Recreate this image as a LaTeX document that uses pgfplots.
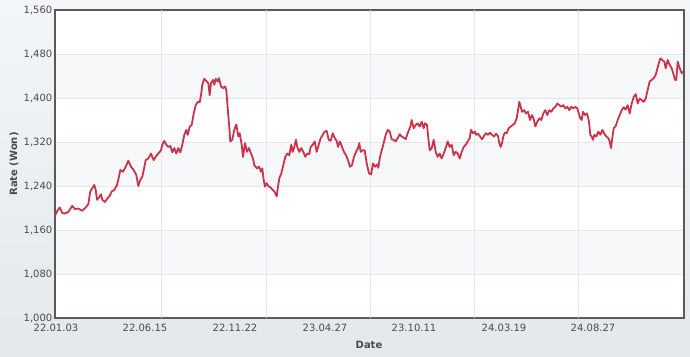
\documentclass[border=0pt]{standalone}
\usepackage{fontspec}
\setmainfont{DejaVu Sans}
\usepackage{pgfplots}
\pgfplotsset{compat=1.18}
\usepackage{pgfplotstable}
\definecolor{linec}{RGB}{202,52,74}
\definecolor{bandc}{HTML}{F6F8FA}
\definecolor{gridc}{HTML}{E4E7EA}
\definecolor{axisc}{HTML}{5A5A5A}
\definecolor{txtc}{HTML}{4A4A4A}
\definecolor{bgtop}{HTML}{F3F6F8}
\definecolor{bgbot}{HTML}{E2E8EC}
\pgfplotstableread{
x y
54.5 1184
57.7 1196
59.7 1201
62.3 1191
65 1190
68.3 1193
72.3 1204
75 1198
78.3 1199
82.3 1195
85.7 1201
88.3 1207
90.3 1230
92.3 1236
94.3 1242
95.7 1233
97 1215
99 1219
101 1225
102.3 1215
105 1211
107.7 1218
109.7 1222
111.7 1230
114.3 1233
117 1242
119 1257
120.3 1269
123 1266
125.7 1275
128.3 1286
131 1275
133.7 1269
136.3 1260
138.3 1240
140.3 1251
142.3 1257
143.7 1269
145.7 1287
148.3 1290
151 1299
153.7 1287
156.3 1295
159.7 1302
161 1305
162.3 1315
164.3 1322
166.3 1315
168.3 1311
170.3 1313
172.3 1301
174.3 1309
176.3 1299
178.3 1309
180.3 1301
182.3 1315
184.3 1333
186.3 1342
187.7 1333
189.7 1348
191.7 1351
193.7 1372
195.7 1387
197.7 1393
199.7 1392
201 1405
202.3 1424
204.3 1435
206.3 1431
208.3 1427
209.7 1405
211 1427
213 1433
214.3 1424
215.7 1435
217.7 1430
219 1436
221 1421
223 1418
225 1421
226.3 1415
227.7 1381
229 1354
230.3 1321
232.3 1324
234.3 1342
236.3 1352
238.3 1330
239.7 1336
241.7 1315
243 1293
245 1318
247 1302
249 1309
251 1299
253 1290
254.3 1278
257 1272
259 1275
261 1266
262.3 1272
263.7 1251
265 1239
266.7 1245
268.7 1239
270.7 1237
272.7 1233
274.7 1229
276.7 1221
278 1239
279.3 1254
281.3 1263
283.3 1278
285.3 1293
287.3 1299
289.3 1296
291.3 1315
292.7 1302
294 1309
296 1324
297.3 1311
299.3 1302
301.3 1309
303.3 1302
305.3 1293
307.3 1299
309.3 1298
310.7 1311
312.7 1315
314.7 1321
316.7 1302
318.7 1315
320.7 1327
322.7 1333
324.7 1339
326.7 1340
328.7 1324
330.7 1322
332.7 1336
334.7 1327
336.7 1322
338 1311
340 1321
342 1311
344 1302
346 1296
348 1287
350 1275
352 1278
354 1293
356 1302
358 1309
359.3 1318
360.7 1302
362.7 1305
364.7 1305
366.7 1281
369 1263
371 1261
373 1281
375 1275
377 1279
378.3 1273
379.7 1290
381.7 1305
383.7 1318
385.7 1333
387.7 1342
389.7 1339
391.7 1325
393.7 1324
395.7 1321
397.7 1327
399.7 1334
401.7 1330
403.7 1328
405.7 1325
407.7 1336
409 1342
410.3 1348
411.7 1360
413.7 1345
415.7 1351
417.7 1354
419.7 1348
421.7 1357
423.7 1345
425 1354
427 1351
428.3 1327
429.7 1305
431.7 1309
433.7 1324
435.7 1302
437.7 1293
439.7 1299
441.7 1290
443.7 1299
445.7 1309
447.7 1321
449.7 1311
451.7 1315
453.7 1296
455.7 1302
457.7 1299
459.7 1290
461.7 1302
463.7 1311
465.7 1315
467.7 1321
469.7 1327
471 1342
473 1336
475 1339
476 1333
478 1335
480 1330
482 1325
484 1331
486 1336
488 1333
490 1337
492 1333
494 1330
496 1335
498 1331
499.3 1318
500.7 1311
502 1318
503.3 1330
504.7 1337
506.7 1336
508.7 1345
510.7 1348
512.7 1351
514.7 1354
516.7 1363
518 1378
519.3 1393
520.7 1384
522 1375
524 1378
526 1372
528 1375
530 1360
532 1369
534 1360
535.3 1348
537.3 1357
539.3 1363
541.3 1360
543.3 1372
545.3 1378
547.3 1369
549.3 1378
551.3 1375
553.3 1381
555.3 1384
557.3 1390
559.3 1387
561.3 1384
563.3 1387
565.3 1381
567.3 1384
569.3 1378
571.3 1384
573.3 1381
575.3 1384
577.3 1381
579.3 1369
580.3 1363
581.7 1360
583 1375
585 1369
587 1372
589 1357
590.3 1333
591.7 1330
593 1324
594.3 1333
596.3 1330
598.3 1339
600.3 1333
602.3 1342
604.3 1335
606.3 1330
608.3 1327
609.7 1321
611 1309
612.3 1327
613.7 1345
615.7 1349
617.7 1360
619.7 1369
621.7 1378
623.7 1383
625.7 1379
627.7 1387
629.7 1372
631.7 1390
633.7 1402
635.7 1407
637.7 1390
639.7 1399
641.7 1396
643.7 1393
645.7 1399
647.7 1415
649.7 1430
651.7 1433
653.7 1436
655.7 1442
657 1451
658.3 1460
660.3 1472
662.3 1469
664.3 1466
665.7 1454
667.7 1469
669.7 1460
671.7 1454
673.7 1442
675 1433
676.3 1433
677.7 1466
679.7 1454
681.7 1445
683 1448
}\ratedata
\begin{document}
\begin{tikzpicture}[x=1pt,y=1pt]
\useasboundingbox (0,0) rectangle (690,356);
\shade[top color=bgtop,bottom color=bgbot] (0,0) rectangle (690,356);
% plot area background and alternating bands (1 px = 1 pt; 1000 at y=38, 1560 at y=346)
\fill[white] (54.5,38) rectangle (683.5,346);
\fill[bandc] (54.5,82) rectangle (683.5,126);
\fill[bandc] (54.5,170) rectangle (683.5,214);
\fill[bandc] (54.5,258) rectangle (683.5,302);
\begin{axis}[
  at={(54.5pt,38pt)}, anchor=south west,
  scale only axis, width=629pt, height=308pt,
  xmin=54.5, xmax=683.5, ymin=1000, ymax=1560,
  xtick={56,145,235,325,414,504,593},
  xticklabels={22.01.03,22.06.15,22.11.22,23.04.27,23.10.11,24.03.19,24.08.27},
  ytick={1000,1080,1160,1240,1320,1400,1480,1560},
  yticklabels={{1,000},{1,080},{1,160},{1,240},{1,320},{1,400},{1,480},{1,560}},
  extra x ticks={161,266,370,474,578},
  extra x tick labels={},
  extra x tick style={grid=major, major tick length=0pt},
  ymajorgrids=true,
  grid style={draw=gridc, line width=0.8pt},
  major tick length=0pt,
  tick style={draw=none},
  axis line style={draw=axisc, line width=2pt},
  ticklabel style={font=\fontsize{10}{12}\selectfont, text=txtc},
  yticklabel style={inner xsep=2pt},
  xticklabel style={yshift=-3pt},
  xlabel={Date}, ylabel={Rate (Won)},
  label style={font=\bfseries\fontsize{10}{12}\selectfont, text=txtc},
  xlabel style={at={(axis description cs:0.5,-0.0877)}, anchor=center},
  ylabel style={at={(axis description cs:-0.0644,0.5)}, anchor=center},
]
\addplot[color=linec, line width=1.8pt, no markers, line join=round] table[x=x,y=y] {\ratedata};
\end{axis}
\end{tikzpicture}
\end{document}
